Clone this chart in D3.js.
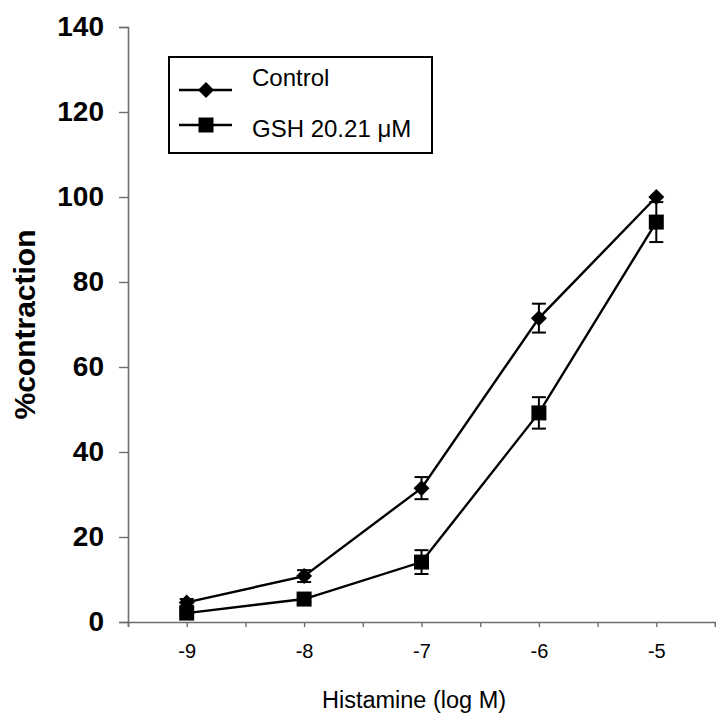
<!DOCTYPE html>
<html>
<head>
<meta charset="utf-8">
<script src="https://cdn.jsdelivr.net/npm/d3@7"></script>
<style>
  html, body { margin: 0; padding: 0; background: #fff; }
  svg { display: block; font-family: "Liberation Sans", Arial, sans-serif; }
</style>
</head>
<body>
<svg id="chart" width="716" height="727"></svg>
<script>
// Histamine concentration (log M)
const logDose = [-9, -8, -7, -6, -5];

// Mean % contraction and SEM for each group
const controlMean = [4.6, 10.8, 31.5, 71.5, 100];
const controlSem  = [0.8, 1.4, 2.6, 3.4, 0];
const gshMean     = [2.1, 5.4, 14.1, 49.2, 94.1];
const gshSem      = [0.5, 0.8, 2.8, 3.7, 4.7];

const seriesNames = ["Control", "GSH 20.21 \u03BCM"];
const yTicks = [0, 20, 40, 60, 80, 100, 120, 140];
const xTicks = [-9.5, -9, -8.5, -8, -7.5, -7, -6.5, -6, -5.5, -5, -4.5];

const svg = d3.select("#chart");

const x = d3.scaleLinear().domain([-9.5, -4.5]).range([128, 715]);
const y = d3.scaleLinear().domain([0, 140]).range([622, 27]);

// Axes
const yAxis = svg.append("g")
  .attr("transform", `translate(${x(-9.5)},0)`)
  .call(d3.axisLeft(y).tickValues(yTicks).tickSize(9).tickPadding(15));
yAxis.select(".domain").attr("stroke", "#6e6e6e").attr("stroke-width", 1.6);
yAxis.selectAll(".tick line").attr("stroke", "#6e6e6e").attr("stroke-width", 1.4);
yAxis.selectAll(".tick text")
  .attr("font-size", 28).attr("font-weight", "bold").attr("fill", "#000")
  .attr("font-family", "Liberation Sans, Arial, sans-serif");

const xAxis = svg.append("g")
  .attr("transform", `translate(0,${y(0)})`)
  .call(d3.axisBottom(x).tickValues(xTicks).tickSize(5).tickPadding(17)
    .tickFormat(d => Number.isInteger(d) ? d3.format("d")(d).replace("\u2212", "-") : ""));
xAxis.select(".domain").attr("stroke", "#6e6e6e").attr("stroke-width", 1.6);
xAxis.selectAll(".tick line").attr("stroke", "#6e6e6e").attr("stroke-width", 1.4);
xAxis.selectAll(".tick text")
  .attr("font-size", 20).attr("fill", "#000")
  .attr("font-family", "Liberation Sans, Arial, sans-serif");

// Axis titles
svg.append("text")
  .attr("x", 414).attr("y", 708)
  .attr("text-anchor", "middle")
  .attr("font-size", 23.5)
  .text("Histamine (log M)");

svg.append("text")
  .attr("transform", `translate(35,${y(70)}) rotate(-90)`)
  .attr("text-anchor", "middle")
  .attr("font-size", 30).attr("font-weight", "bold")
  .text("%contraction");

const line = d3.line().x(d => x(d[0])).y(d => y(d[1]));

function drawSeries(means, sems, marker) {
  const pts = logDose.map((d, i) => [d, means[i], sems[i]]);
  const g = svg.append("g");
  // error bars
  pts.forEach(p => {
    if (p[2] <= 0) return;
    const cx = x(p[0]);
    g.append("line").attr("x1", cx).attr("x2", cx)
      .attr("y1", y(p[1] - p[2])).attr("y2", y(p[1] + p[2]))
      .attr("stroke", "#000").attr("stroke-width", 2);
    [p[1] - p[2], p[1] + p[2]].forEach(v => {
      g.append("line").attr("x1", cx - 7).attr("x2", cx + 7)
        .attr("y1", y(v)).attr("y2", y(v))
        .attr("stroke", "#000").attr("stroke-width", 2);
    });
  });
  g.append("path").datum(pts).attr("d", line)
    .attr("fill", "none").attr("stroke", "#000").attr("stroke-width", 2.4);
  pts.forEach(p => marker(g, x(p[0]), y(p[1])));
}

function diamond(g, cx, cy, r = 8) {
  g.append("path")
    .attr("d", `M${cx},${cy - r}L${cx + r},${cy}L${cx},${cy + r}L${cx - r},${cy}Z`)
    .attr("fill", "#000");
}
function square(g, cx, cy, s = 15) {
  g.append("rect").attr("x", cx - s / 2).attr("y", cy - s / 2)
    .attr("width", s).attr("height", s).attr("fill", "#000");
}

drawSeries(controlMean, controlSem, diamond);
drawSeries(gshMean, gshSem, square);

// Legend
const legend = svg.append("g");
legend.append("rect").attr("x", 169).attr("y", 57).attr("width", 263).attr("height", 96)
  .attr("fill", "#fff").attr("stroke", "#000").attr("stroke-width", 2);
const legendRows = [
  { name: seriesNames[0], ly: 90, ty: 86, marker: diamond },
  { name: seriesNames[1], ly: 125, ty: 137, marker: square }
];
legendRows.forEach(r => {
  legend.append("line").attr("x1", 179).attr("x2", 232).attr("y1", r.ly).attr("y2", r.ly)
    .attr("stroke", "#000").attr("stroke-width", 2.4);
  r.marker(legend, 206, r.ly);
  legend.append("text").attr("x", 252).attr("y", r.ty)
    .attr("font-size", 24).text(r.name);
});
</script>
</body>
</html>
